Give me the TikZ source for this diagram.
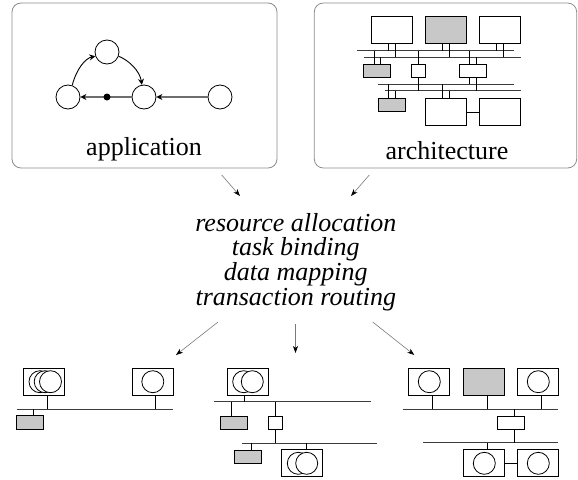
\documentclass[tikz,border=0pt]{standalone}
\usepackage{fontspec}
\setmainfont{Liberation Serif}
\usetikzlibrary{arrows.meta}
\definecolor{boxgray}{HTML}{C8C8C8}
\definecolor{framegray}{HTML}{8C8C8C}
\definecolor{flowgray}{HTML}{7A7A7A}
\definecolor{busgray}{HTML}{3C3C3C}
\definecolor{edgegray}{HTML}{6E6E6E}
\begin{document}
\begin{tikzpicture}[x=1pt,y=-1pt,
 panel/.style={draw=framegray, line width=0.8pt, rounded corners=9pt, inner sep=0pt},
 task/.style={circle, draw, line width=0.8pt, minimum size=24pt, inner sep=0pt},
 pe/.style={draw, line width=0.8pt, fill=white, minimum width=41pt, minimum height=27pt, inner sep=0pt},
 mem/.style={draw, line width=0.8pt, fill=boxgray, minimum width=27pt, minimum height=13.5pt, inner sep=0pt},
 bridge/.style={draw, line width=0.8pt, fill=white, minimum width=27pt, minimum height=13.5pt, inner sep=0pt},
 swbox/.style={draw, line width=0.8pt, fill=white, minimum width=14pt, minimum height=13.5pt, inner sep=0pt},
 proc/.style={circle, draw, line width=0.8pt, fill=white, minimum size=22pt, inner sep=0pt},
 bus/.style={line width=0.9pt, draw=busgray},
 link/.style={line width=0.8pt},
 flow/.style={draw=flowgray, line width=0.6pt, -{Stealth[length=7pt,width=5pt,inset=2pt,black]}},
 dep/.style={line width=0.9pt, -{Stealth[length=6pt,width=6pt,inset=2pt]}},
 chan/.style={line width=1.3pt, draw=edgegray, -{Stealth[length=6pt,width=6pt,inset=2pt,black]}},
 big/.style={font=\fontsize{26}{24.7}\selectfont, inner sep=0pt},
]
\useasboundingbox (0,0) rectangle (578,479);

% panels
\node[panel, minimum width=265pt, minimum height=165pt] (app) at (144.5,85.5) {};
\node[panel, minimum width=262.4pt, minimum height=165pt] (arch) at (445.5,85.5) {};
\node[big, anchor=base] (applbl) at (144,155) {application};
\node[big, anchor=base] (archlbl) at (447,159.5) {architecture};

% application graph
\node[task] (t1) at (107,52) {};
\node[task] (t2) at (68,97) {};
\node[task] (t3) at (144,97) {};
\node[task] (t4) at (220,97) {};
\draw[chan] (t3) -- (t2);
\draw[chan] (t4) -- (t3);
\node[circle, fill, minimum size=7pt, inner sep=0pt] (tok) at (107,97) {};
\draw[dep] (t2.70) .. controls +(4,-16) and +(-10,2) .. (t1.200);
\draw[dep] (t1.-20) .. controls +(10,4) and +(-2,-14) .. (t3.100);

% architecture
\coordinate (l1w) at (357.3,50.7); \coordinate (l1e) at (514,50.7);
\coordinate (l2w) at (364,57.3);   \coordinate (l2e) at (521,57.3);
\coordinate (l3w) at (378.3,84.3); \coordinate (l3e) at (514,84.3);
\coordinate (l4w) at (385,90.7);   \coordinate (l4e) at (521,90.7);
\draw[bus] (l1w) -- (l1e);
\draw[bus] (l2w) -- (l2e);
\draw[bus] (l3w) -- (l3e);
\draw[bus] (l4w) -- (l4e);
\node[pe] (a1) at (391.7,30.3) {};
\node[pe, fill=boxgray] (a2) at (445.7,30.3) {};
\node[pe] (a3) at (500,30.3) {};
\node[mem] (g1) at (377.3,71) {};
\node[swbox] (s1) at (418.5,71) {};
\node[bridge] (h1) at (472.7,71) {};
\node[mem] (g2) at (391.7,105) {};
\node[pe] (b1) at (445.7,112) {};
\node[pe] (b2) at (500,112) {};
\draw[link] (b1) -- (b2);
\foreach \n in {a1,a2,a3}{
  \draw[link] ([xshift=-3.3pt]\n.south) -- ([xshift=-3.3pt]\n.south |- l1w);
  \draw[link] ([xshift=3.3pt]\n.south) -- ([xshift=3.3pt]\n.south |- l2w);
}
\draw[link] ([xshift=-3.3pt]g1.north) -- ([xshift=-3.3pt]g1.north |- l1w);
\draw[link] ([xshift=3.3pt]g1.north) -- ([xshift=3.3pt]g1.north |- l2w);
\draw[link] (s1.north) -- (s1.north |- l1w);
\draw[link] (s1.south) -- (s1.south |- l4w);
\draw[link] ([xshift=-3.3pt]h1.north) -- ([xshift=-3.3pt]h1.north |- l1w);
\draw[link] ([xshift=3.3pt]h1.north) -- ([xshift=3.3pt]h1.north |- l2w);
\draw[link] ([xshift=-3.3pt]h1.south) -- ([xshift=-3.3pt]h1.south |- l3w);
\draw[link] ([xshift=3.3pt]h1.south) -- ([xshift=3.3pt]h1.south |- l4w);
\foreach \n in {g2,b1}{
  \draw[link] ([xshift=-3.3pt]\n.north) -- ([xshift=-3.3pt]\n.north |- l3w);
  \draw[link] ([xshift=3.3pt]\n.north) -- ([xshift=3.3pt]\n.north |- l4w);
}

% mapping text
\node[big, font=\fontsize{26}{24.7}\selectfont\itshape, align=center] (maps) at (295.8,262)
  {resource allocation\\task binding\\data mapping\\transaction routing};

% flow arrows
\coordinate (f1s) at (221.7,175); \coordinate (f1e) at (240,196);
\coordinate (f2s) at (369.3,175); \coordinate (f2e) at (351,196);
\coordinate (f3s) at (218,322);   \coordinate (f3e) at (176,355);
\coordinate (f4s) at (295.5,324); \coordinate (f4e) at (295.5,353);
\coordinate (f5s) at (372.7,322); \coordinate (f5e) at (414.3,355);
\draw[flow] (f1s) -- (f1e);
\draw[flow] (f2s) -- (f2e);
\draw[flow] (f3s) -- (f3e);
\draw[flow] (f4s) -- (f4e);
\draw[flow] (f5s) -- (f5e);

% bottom left
\coordinate (bl1w) at (16.7,409); \coordinate (bl1e) at (173.3,409);
\draw[bus] (bl1w) -- (bl1e);
\node[pe] (p1) at (43.8,381.7) {};
\node[proc] (p1a) at (40,381.7) {};
\node[proc] (p1b) at (45.2,381.7) {};
\node[proc] (p1c) at (50.5,381.7) {};
\node[pe] (p2) at (152.8,381.7) {};
\node[proc] (p2a) at (152.8,381.7) {};
\node[mem] (m1) at (30.3,422.5) {};
\draw[link] ([xshift=3.5pt]p1.south) -- ([xshift=3.5pt]p1.south |- bl1w);
\draw[link] ([xshift=3pt]p2.south) -- ([xshift=3pt]p2.south |- bl1w);
\draw[link] ([xshift=3pt]m1.north) -- ([xshift=3pt]m1.north |- bl1w);

% bottom middle
\coordinate (bm1w) at (214,401.7); \coordinate (bm1e) at (370.7,401.7);
\coordinate (bm2w) at (241.7,443.3); \coordinate (bm2e) at (376.7,443.3);
\draw[bus] (bm1w) -- (bm1e);
\draw[bus] (bm2w) -- (bm2e);
\node[pe] (q1) at (247.8,381.7) {};
\node[proc] (q1a) at (243.7,381.7) {};
\node[proc] (q1b) at (252.3,381.7) {};
\node[mem] (q2) at (234.2,422.7) {};
\node[swbox] (q3) at (275.3,422.7) {};
\node[mem] (q4) at (248,456.7) {};
\node[pe] (q5) at (302.2,463.3) {};
\node[proc] (q5a) at (298.3,463.3) {};
\node[proc] (q5b) at (306.7,463.3) {};
\draw[link] ([xshift=-3.5pt]q1.south) -- ([xshift=-3.5pt]q1.south |- bm1w);
\draw[link] ([xshift=-3.2pt]q2.north) -- ([xshift=-3.2pt]q2.north |- bm1w);
\draw[link] (q3.north) -- (q3.north |- bm1w);
\draw[link] (q3.south) -- (q3.south |- bm2w);
\draw[link] ([xshift=3.7pt]q4.north) -- ([xshift=3.7pt]q4.north |- bm2w);
\draw[link] ([xshift=3.8pt]q5.north) -- ([xshift=3.8pt]q5.north |- bm2w);

% bottom right
\coordinate (br1w) at (402.7,409); \coordinate (br1e) at (558.3,409);
\coordinate (br2w) at (423.3,442.7); \coordinate (br2e) at (558.3,442.7);
\draw[bus] (br1w) -- (br1e);
\draw[bus] (br2w) -- (br2e);
\node[pe] (u1) at (429.2,381.7) {};
\node[proc] (u1a) at (429.3,381.7) {};
\node[pe, fill=boxgray] (u2) at (484.2,381.7) {};
\node[pe] (u3) at (538,381.7) {};
\node[proc] (u3a) at (538.3,381.7) {};
\node[bridge] (u4) at (511,422.7) {};
\node[pe] (u5) at (484.2,463.3) {};
\node[proc] (u5a) at (484.3,463.3) {};
\node[pe] (u6) at (538,463.3) {};
\node[proc] (u6a) at (538.3,463.3) {};
\draw[link] (u5) -- (u6);
\foreach \n in {u1,u2,u3}{
  \draw[link] ([xshift=3.3pt]\n.south) -- ([xshift=3.3pt]\n.south |- br1w);
}
\draw[link] ([xshift=3.3pt]u4.north) -- ([xshift=3.3pt]u4.north |- br1w);
\draw[link] ([xshift=3.3pt]u4.south) -- ([xshift=3.3pt]u4.south |- br2w);
\draw[link] ([xshift=3.1pt]u5.north) -- ([xshift=3.1pt]u5.north |- br2w);
\end{tikzpicture}
\end{document}
